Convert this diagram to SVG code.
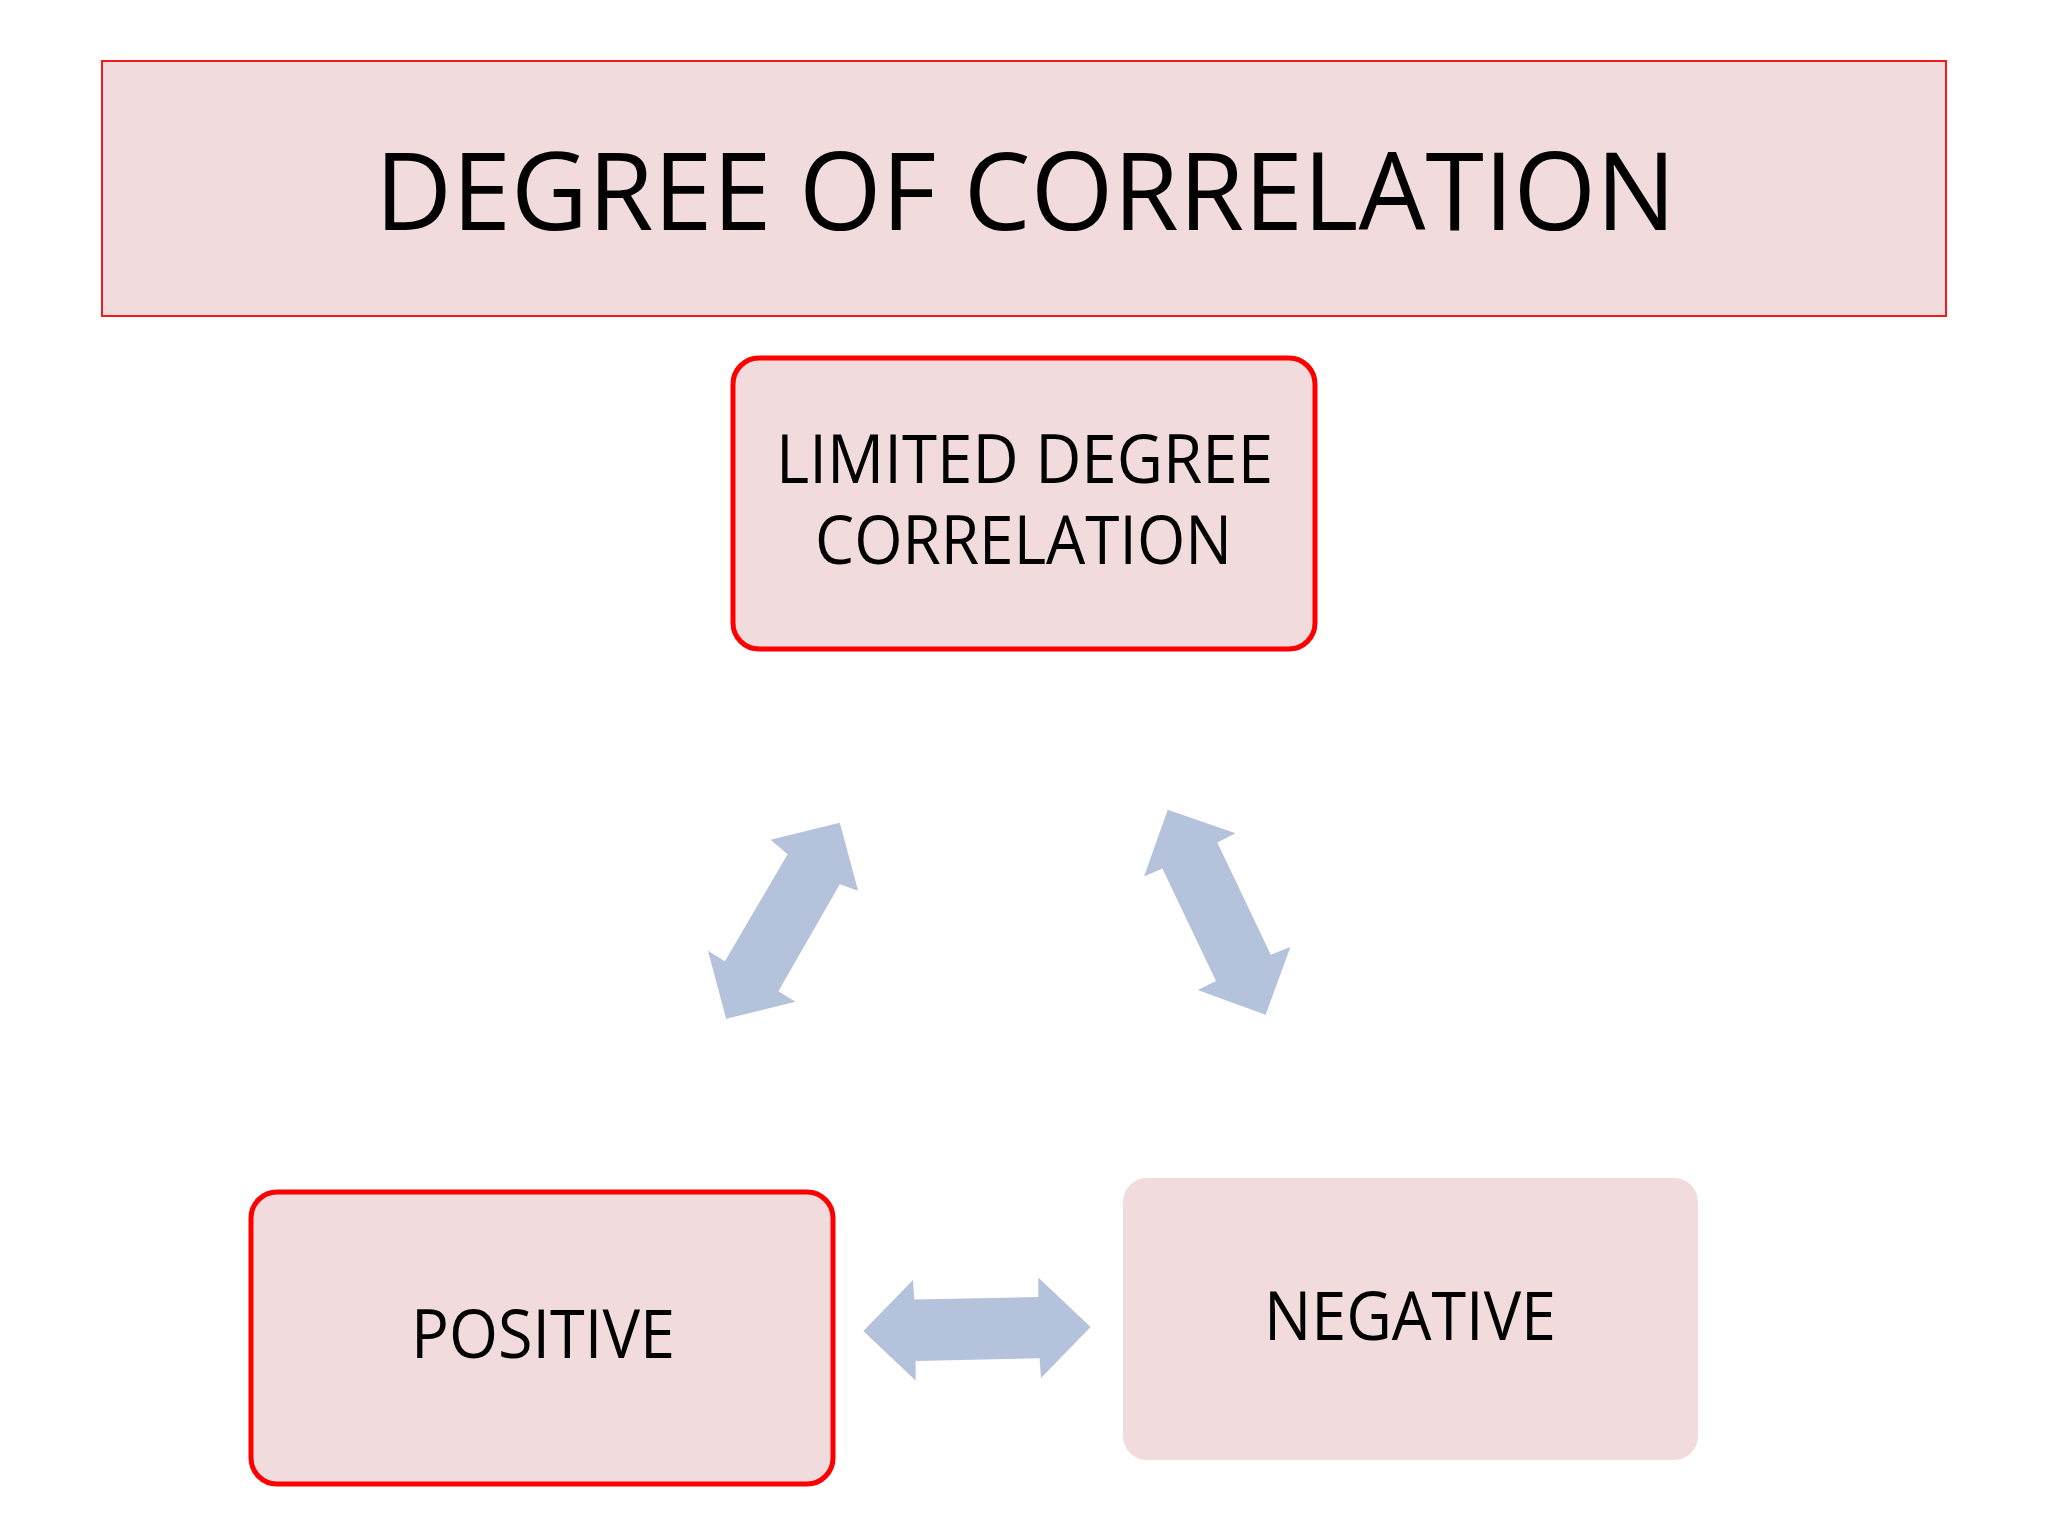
<svg xmlns="http://www.w3.org/2000/svg" width="2048" height="1536" viewBox="0 0 2048 1536">
<style>
.t{font-family:"Open Sans","Liberation Sans",sans-serif;fill:#000;text-anchor:start}
.box{fill:#f2dbdc}
.arr{fill:#b4c2dc}
</style>
<rect width="2048" height="1536" fill="#fff"/>
<g id="title">
<rect x="102" y="61" width="1844" height="255" class="box" stroke="#ee1c1c" stroke-width="2"/>
<text class="t" x="375" y="230" font-size="108" textLength="1301" lengthAdjust="spacingAndGlyphs">DEGREE OF CORRELATION</text>
</g>
<g id="limited">
<rect x="733" y="358" width="582" height="291" rx="26" class="box" stroke="#f00" stroke-width="5"/>
<text class="t" x="776" y="483" font-size="68" textLength="497" lengthAdjust="spacingAndGlyphs">LIMITED DEGREE</text>
<text class="t" x="815" y="564" font-size="68" textLength="417" lengthAdjust="spacingAndGlyphs">CORRELATION</text>
</g>
<g id="positive">
<rect x="251" y="1192" width="582" height="292" rx="26" class="box" stroke="#f00" stroke-width="5"/>
<text class="t" x="411" y="1358" font-size="68" textLength="264" lengthAdjust="spacingAndGlyphs">POSITIVE</text>
</g>
<g id="negative">
<rect x="1123" y="1178" width="575" height="282" rx="24" class="box"/>
<text class="t" x="1264" y="1340" font-size="68" textLength="292" lengthAdjust="spacingAndGlyphs">NEGATIVE</text>
</g>
<g id="connectors">
<polygon class="arr" points="839.8,822.8 858.1,890.8 839.8,884.2 778.4,991.3 795.4,1001.8 726.2,1018.8 707.9,950.8 724.9,961.3 787.6,854.2 770.6,839.8"/>
<polygon class="arr" points="1167.7,809.8 1235.6,833.3 1217.3,842.4 1270.8,954.8 1290.4,946.9 1265.6,1014.8 1197.7,990 1216,980.9 1162.4,868.6 1144.1,876.4"/>
<polygon class="arr" points="863.3,1330.9 913,1280 914.3,1299.6 1038.3,1297 1038.3,1277.4 1090.6,1327 1041,1377.9 1039.6,1358.3 915.6,1361 915.6,1380.6"/>
</g>
</svg>
